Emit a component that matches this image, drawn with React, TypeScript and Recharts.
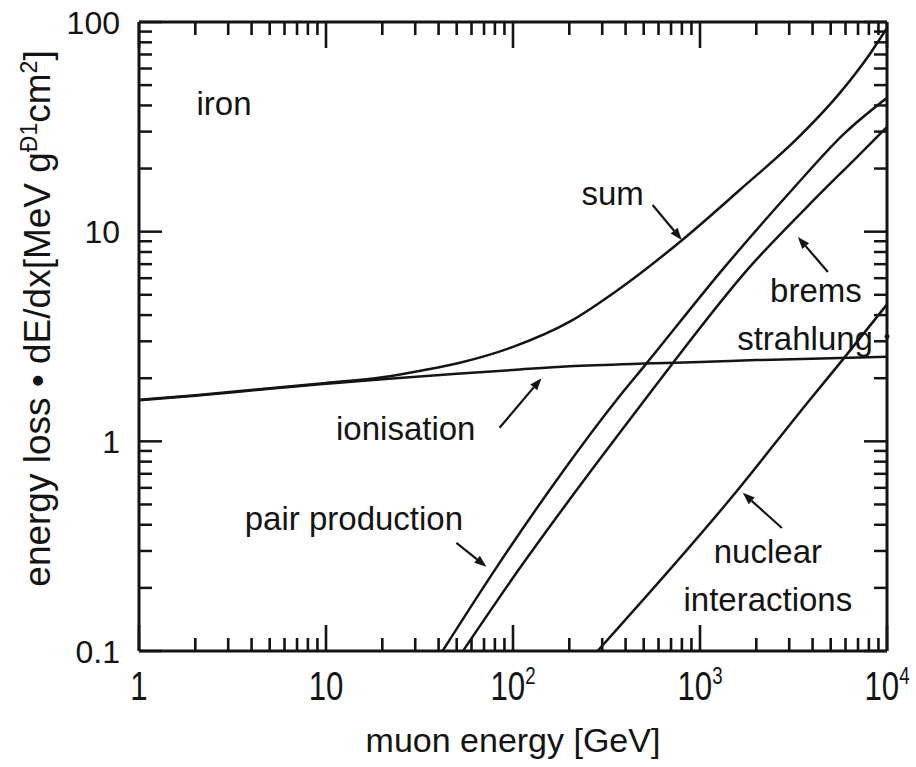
import React from 'react';
import { LineChart, Line, XAxis, YAxis, ReferenceLine, ReferenceDot } from 'recharts';

// muon energy [GeV] (x) and energy loss dE/dx [MeV g^-1 cm^2] (y), iron
const ionisationE = [1, 2, 5, 10, 20, 50, 100, 200, 500, 1000, 2000, 5000, 10000];
const ionisationV = [1.57, 1.65, 1.78, 1.88, 1.98, 2.1, 2.19, 2.28, 2.35, 2.39, 2.44, 2.49, 2.53];

const sumE = [1, 2, 5, 10, 20, 32, 52, 100, 200, 370, 780, 1630, 3420, 5600, 8100, 10000];
const sumV = [1.58, 1.66, 1.79, 1.9, 2.02, 2.17, 2.37, 2.82, 3.71, 5.33, 8.93, 15.8, 28.6, 45.9, 70.4, 93.6];

const pairE = [42, 82, 157, 358, 519, 1357, 3100, 5960, 10000];
const pairV = [0.1, 0.252, 0.586, 1.575, 2.36, 6.79, 15.8, 29.6, 43.5];

const bremsE = [54, 110, 219, 506, 715, 1847, 3728, 6909, 10000];
const bremsV = [0.1, 0.252, 0.586, 1.575, 2.36, 6.79, 13.1, 22.7, 31.6];

const nuclearE = [283, 1500, 3870, 5600, 10000];
const nuclearV = [0.1, 0.55, 1.58, 2.36, 4.5];

// ticks
const xMajor = [1, 10, 100, 1000, 10000];
const xTickBase = ['1', '10', '10', '10', '10'];
const xTickExp = ['', '', '2', '3', '4'];
const xMinor = [2, 3, 4, 5, 6, 7, 8, 9, 20, 30, 40, 50, 60, 70, 80, 90, 200, 300, 400, 500, 600, 700, 800, 900, 2000, 3000, 4000, 5000, 6000, 7000, 8000, 9000];
const yMajor = [0.1, 1, 10, 100];
const yTickLabels = ['0.1', '1', '10', '100'];
const yMinor = [0.2, 0.3, 0.4, 0.5, 0.6, 0.7, 0.8, 0.9, 2, 3, 4, 5, 6, 7, 8, 9, 20, 30, 40, 50, 60, 70, 80, 90];

// annotations (data coordinates)
const labelTexts = ['iron', 'sum', 'brems', 'ionisation', 'pair production', 'nuclear', 'interactions'];
const labelE = [2.85, 341, 4167, 26.7, 14.1, 2306, 2306];
const labelV = [36, 13.4, 4.62, 1.016, 0.378, 0.263, 0.155];

const arrowFromE = [558, 4831, 84.7, 49.8, 2741];
const arrowFromV = [13.4, 6.42, 1.16, 0.328, 0.386];
const arrowToE = [799, 3337, 142, 72.1, 1694];
const arrowToV = [9.13, 9.43, 2.0, 0.252, 0.568];

const INK = '#141414';
const FONT = "'Liberation Sans', Arial, Helvetica, sans-serif";

const toPts = (E: number[], V: number[]) => E.map((e, i) => ({ E: e, v: V[i] }));
const ionData = toPts(ionisationE, ionisationV);
const sumData = toPts(sumE, sumV);
const pairData = toPts(pairE, pairV);
const bremsData = toPts(bremsE, bremsV);
const nuclearData = toPts(nuclearE, nuclearV);

const allX = [...xMajor, ...xMinor].sort((a, b) => a - b);
const allY = [...yMajor, ...yMinor].sort((a, b) => a - b);

// bottom axis: vertical inward tick bar + label for majors
function BottomTick(props: any) {
  const { x, y, payload } = props;
  const i = xMajor.indexOf(payload.value);
  const len = i >= 0 ? 26 : 13;
  return (
    <g>
      <rect x={x - 1.3} y={y - len} width={2.6} height={len} fill={INK} />
      {i >= 0 && (
        <g transform={`translate(${x},${y + 49})`}>
          <text transform="scale(0.78,1)" textAnchor="middle" fontSize={40} fontFamily={FONT} fill={INK}>
            {xTickBase[i]}
            {xTickExp[i] ? <tspan dy={-16} fontSize={24}>{xTickExp[i]}</tspan> : null}
          </text>
        </g>
      )}
    </g>
  );
}

function TopTick(props: any) {
  const { x, y, payload } = props;
  const len = xMajor.indexOf(payload.value) >= 0 ? 26 : 13;
  return <rect x={x - 1.3} y={y} width={2.6} height={len} fill={INK} />;
}

function LeftTick(props: any) {
  const { x, y, payload } = props;
  const i = yMajor.indexOf(payload.value);
  const major = i >= 0;
  return (
    <g>
      <line x1={x} y1={y} x2={x + (major ? 23 : 13)} y2={y} stroke={INK} strokeWidth={2.5} />
      {major && (
        <text x={x - 19} y={y + 11.5} textAnchor="end" fontSize={32} fontFamily={FONT} fill={INK}>
          {yTickLabels[i]}
        </text>
      )}
    </g>
  );
}

function RightTick(props: any) {
  const { x, y, payload } = props;
  const major = yMajor.indexOf(payload.value) >= 0;
  return <line x1={x} y1={y} x2={x - (major ? 23 : 13)} y2={y} stroke={INK} strokeWidth={2.5} />;
}

function YTitle(props: any) {
  const vb = props.viewBox || { x: 0, y: 22, width: 139, height: 629 };
  const cx = vb.x + 50;
  const cy = vb.y + vb.height / 2 - 18;
  return (
    <text transform={`translate(${cx},${cy}) rotate(-90)`} textAnchor="middle" fontSize={37} fontFamily={FONT} fill={INK}>
      energy loss • dE/dx[MeV g<tspan dy={-13} fontSize={23}>Ð1</tspan>
      <tspan dy={13}>cm</tspan>
      <tspan dy={-13} fontSize={23}>2</tspan>
      <tspan dy={13}>]</tspan>
    </text>
  );
}

function XTitle(props: any) {
  const vb = props.viewBox || { x: 139, y: 651, width: 748, height: 116 };
  return (
    <text x={vb.x + vb.width / 2} y={vb.y + 101} textAnchor="middle" fontSize={34} fontFamily={FONT} fill={INK}>
      muon energy [GeV]
    </text>
  );
}

function Arrow(props: any) {
  const { x1, y1, x2, y2 } = props;
  const dx = x2 - x1;
  const dy = y2 - y1;
  const len = Math.sqrt(dx * dx + dy * dy) || 1;
  const ux = dx / len;
  const uy = dy / len;
  const hl = 12;
  const hw = 4.5;
  const bx = x2 - ux * hl;
  const by = y2 - uy * hl;
  const pts = `${x2},${y2} ${bx - uy * hw},${by + ux * hw} ${bx + uy * hw},${by - ux * hw}`;
  return (
    <g>
      <line x1={x1} y1={y1} x2={bx} y2={by} stroke={INK} strokeWidth={2.2} />
      <polygon points={pts} fill={INK} />
    </g>
  );
}

const makeLabel = (text: string, size: number, anchor: string) => (p: any) => (
  <text x={p.cx} y={p.cy} textAnchor={anchor} fontSize={size} fontFamily={FONT} fill={INK}>
    {text}
  </text>
);

export default function App() {
  return (
    <div style={{ position: 'absolute', left: 0, top: 0 }}>
      <LineChart width={916} height={767} margin={{ top: 0, right: 0, bottom: 0, left: 0 }}>
        <XAxis
          xAxisId="b"
          dataKey="E"
          type="number"
          scale="log"
          domain={[1, 10000]}
          allowDataOverflow
          ticks={allX}
          interval={0}
          tickSize={0}
          tickMargin={0}
          tickLine={false}
          tick={BottomTick}
          axisLine={{ stroke: INK, strokeWidth: 3 }}
          height={116}
          orientation="bottom"
          label={<XTitle />}
        />
        <XAxis
          xAxisId="t"
          dataKey="E"
          type="number"
          scale="log"
          domain={[1, 10000]}
          allowDataOverflow
          ticks={allX}
          interval={0}
          tickSize={0}
          tickMargin={0}
          tickLine={false}
          tick={TopTick}
          axisLine={{ stroke: INK, strokeWidth: 3 }}
          height={22}
          orientation="top"
        />
        <YAxis
          yAxisId="l"
          type="number"
          scale="log"
          domain={[0.1, 100]}
          allowDataOverflow
          ticks={allY}
          interval={0}
          tickSize={0}
          tickMargin={0}
          tickLine={false}
          tick={LeftTick}
          axisLine={{ stroke: INK, strokeWidth: 3 }}
          width={139}
          orientation="left"
          label={<YTitle />}
        />
        <YAxis
          yAxisId="r"
          type="number"
          scale="log"
          domain={[0.1, 100]}
          allowDataOverflow
          ticks={allY}
          interval={0}
          tickSize={0}
          tickMargin={0}
          tickLine={false}
          tick={RightTick}
          axisLine={{ stroke: INK, strokeWidth: 3 }}
          width={29}
          orientation="right"
        />
        <Line xAxisId="b" yAxisId="l" data={ionData} dataKey="v" type="monotone" stroke={INK} strokeWidth={2.5} dot={false} isAnimationActive={false} />
        <Line xAxisId="b" yAxisId="l" data={sumData} dataKey="v" type="monotone" stroke={INK} strokeWidth={2.5} dot={false} isAnimationActive={false} />
        <Line xAxisId="b" yAxisId="l" data={pairData} dataKey="v" type="monotone" stroke={INK} strokeWidth={2.5} dot={false} isAnimationActive={false} />
        <Line xAxisId="b" yAxisId="l" data={bremsData} dataKey="v" type="monotone" stroke={INK} strokeWidth={2.5} dot={false} isAnimationActive={false} />
        <Line xAxisId="b" yAxisId="l" data={nuclearData} dataKey="v" type="monotone" stroke={INK} strokeWidth={2.5} dot={false} isAnimationActive={false} />
        {labelTexts.map((t, i) => (
          <ReferenceDot key={t} xAxisId="b" yAxisId="l" x={labelE[i]} y={labelV[i]} r={0} shape={makeLabel(t, 33, 'middle')} />
        ))}
        <ReferenceDot xAxisId="b" yAxisId="l" x={8414} y={2.73} r={0} shape={makeLabel('strahlung', 33, 'end')} />
        <ReferenceDot xAxisId="b" yAxisId="l" x={10000} y={2.93} r={0} ifOverflow="visible" shape={makeLabel('•', 18, 'middle')} />
        {arrowFromE.map((e, i) => (
          <ReferenceLine
            key={`a${i}`}
            xAxisId="b"
            yAxisId="l"
            segment={[{ x: e, y: arrowFromV[i] }, { x: arrowToE[i], y: arrowToV[i] }]}
            shape={Arrow}
          />
        ))}
      </LineChart>
    </div>
  );
}
